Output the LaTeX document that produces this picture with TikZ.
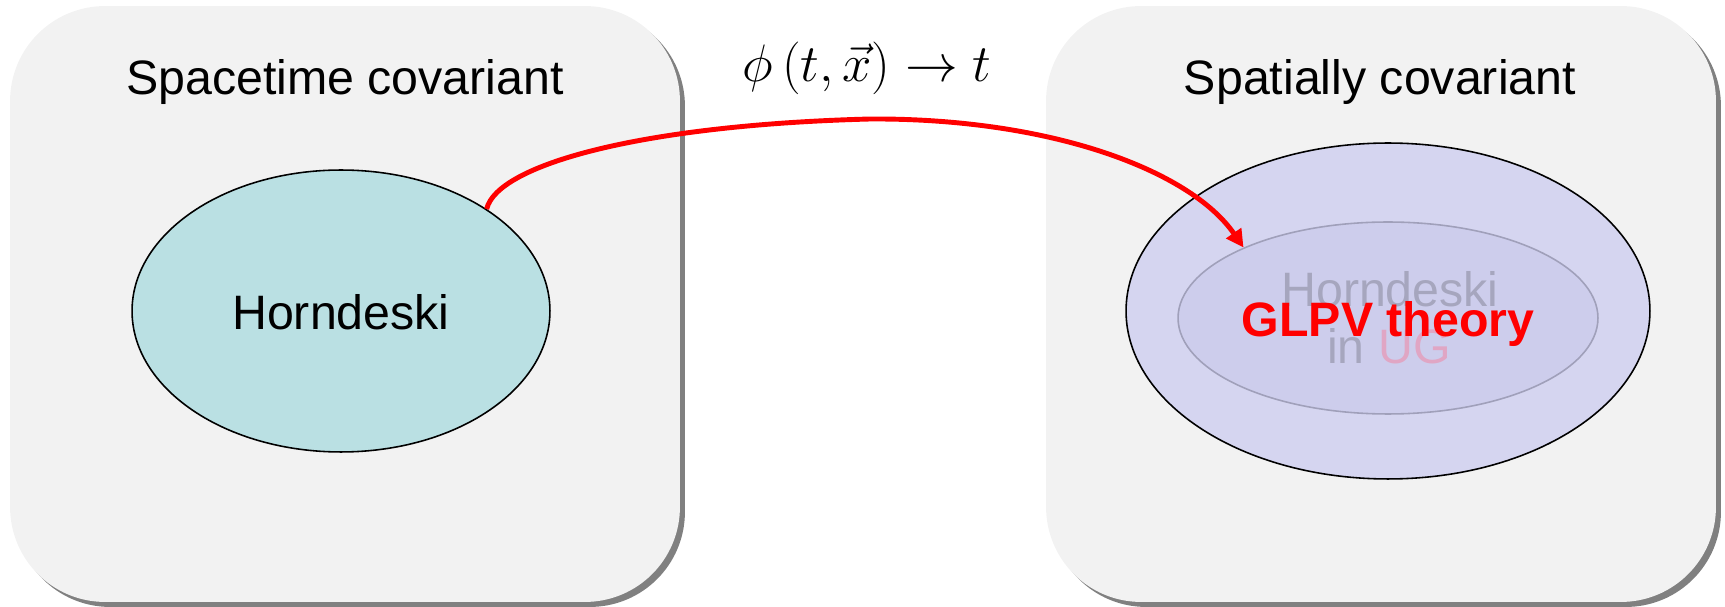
\documentclass[tikz,border=0pt]{standalone}
\usepackage{fix-cm}
\usepackage[no-math]{fontspec}
\setmainfont{Liberation Sans}
\usetikzlibrary{shapes.geometric,arrows.meta,shadows}
\definecolor{boxfill}{RGB}{242,242,242}
\definecolor{shadowgray}{RGB}{128,128,128}
\definecolor{tealfill}{RGB}{186,224,227}
\definecolor{lavouter}{RGB}{213,213,240}
\definecolor{lavinner}{RGB}{205,205,236}
\definecolor{inneredge}{RGB}{160,160,186}
\definecolor{graytext}{RGB}{166,166,190}
\definecolor{ugpink}{RGB}{224,166,196}
\tikzset{
  panel/.style={rectangle, rounded corners=1.9cm, fill=boxfill, draw=none,
    minimum width=13.4cm, minimum height=11.92cm, inner sep=0pt,
    drop shadow={shadow xshift=0.1cm, shadow yshift=-0.1cm, fill=shadowgray, opacity=1}},
  bigtext/.style={font=\fontsize{27.5}{33}\selectfont, inner sep=0pt, anchor=base},
  theoryarrow/.style={draw=red, line width=2.8pt, -{Triangle[length=10pt,width=10pt]}},
}
\begin{document}
\begin{tikzpicture}[x=0.02cm,y=-0.02cm]
\useasboundingbox (0,0) rectangle (1725,607);
% panels
\node[panel] (lp) at (345,304) {};
\node[panel] (rp) at (1381,304) {};
% titles
\node[bigtext] (lt) at (345,95) {Spacetime covariant};
\node[bigtext] (rt) at (1380,95) {Spatially covariant};
% left ellipse
\node[ellipse, draw=black, line width=0.9pt, fill=tealfill, minimum width=8.36cm, minimum height=5.64cm, inner sep=0pt] (hl) at (341,311) {};
\node[bigtext] (hltext) at (341,330) {Horndeski};
% right ellipses
\node[ellipse, draw=black, line width=0.9pt, fill=lavouter, minimum width=10.48cm, minimum height=6.72cm, inner sep=0pt] (hout) at (1388,311) {};
\node[ellipse, draw=inneredge, line width=0.9pt, fill=lavinner, minimum width=8.4cm, minimum height=3.84cm, inner sep=0pt] (hin) at (1388,318) {};
\node[bigtext, text=graytext] (ghorn) at (1390,307) {Horndeski};
\node[bigtext, text=graytext] (gin) at (1389,364) {in \textcolor{ugpink}{UG}};
\node[bigtext, text=red, font=\fontsize{27.5}{33}\selectfont\bfseries] (glpv) at (1388,337) {GLPV theory};
% map label
\node[font=\fontsize{30}{36}\selectfont, inner sep=0pt, anchor=base] (map) at (867,82) {$\phi\left(t,\vec{x}\right)\rightarrow t$};
% arrow
\coordinate (peak) at (870,119);
\draw[theoryarrow] (hl.35) .. controls (497,165) and (640,125) .. (peak)
  .. controls (1050,118) and (1190,170) .. (hin.154.7);
\end{tikzpicture}
\end{document}
